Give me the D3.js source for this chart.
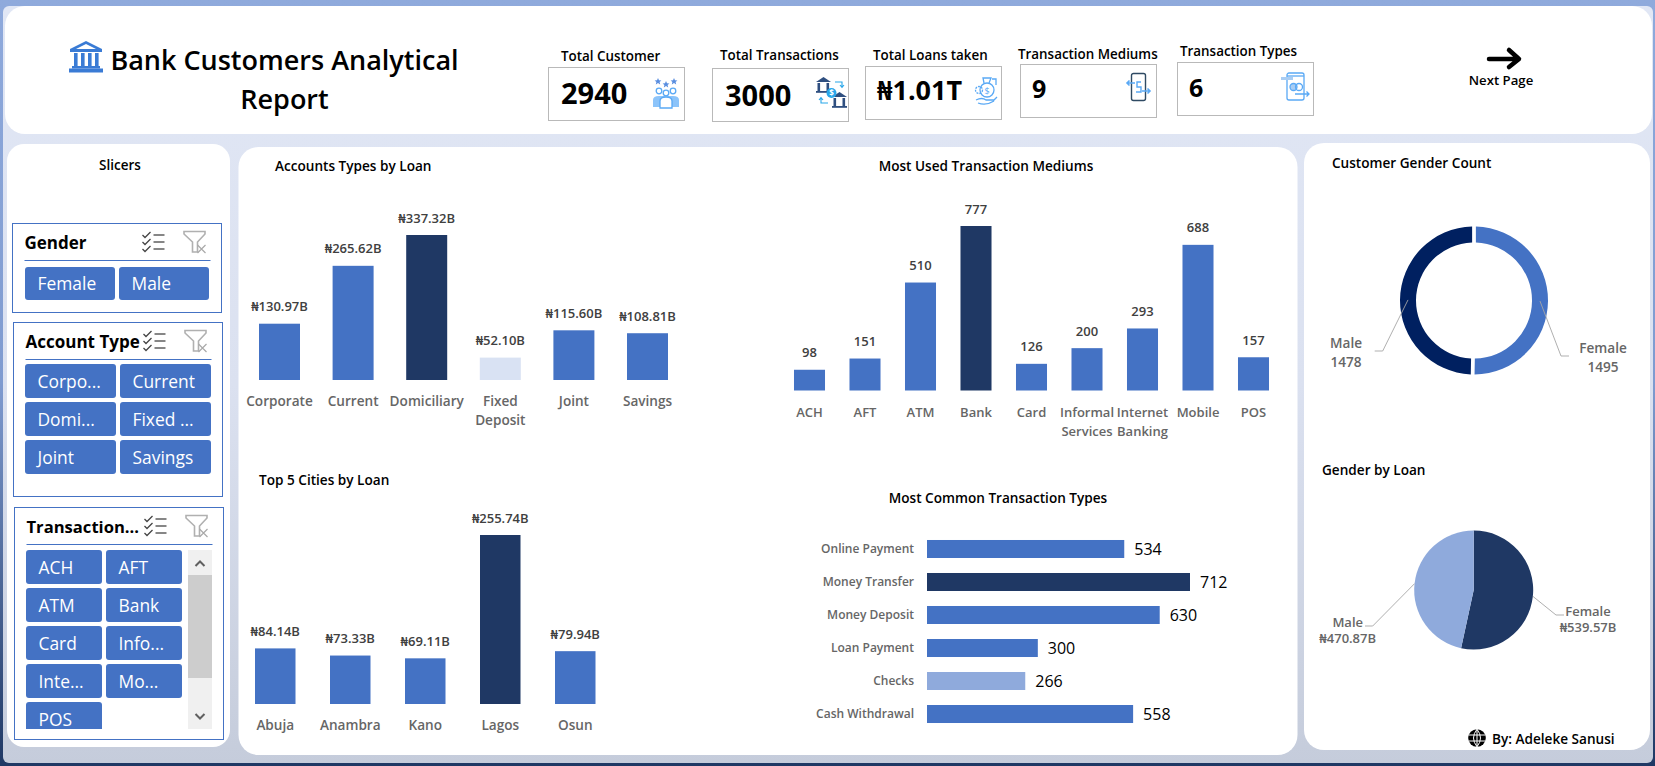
<!DOCTYPE html>
<html>
<head>
<meta charset="utf-8">
<title>Bank Customers Analytical Report</title>
<script src="https://cdn.jsdelivr.net/npm/d3@7"></script>
<style>
  html, body { margin: 0; padding: 0; background: #fff; overflow: hidden; }
  svg { display: block; }
  text { font-family: "Open Sans", "Noto Sans", "DejaVu Sans", sans-serif; }
</style>
</head>
<body>
<div id="chart"></div>
<script>
// Data
const accountTypes = ['Corporate', 'Current', 'Domiciliary', 'Fixed Deposit', 'Joint', 'Savings'];
const accountLoans = [130.97, 265.62, 337.32, 52.10, 115.60, 108.81];

const mediums = ['ACH', 'AFT', 'ATM', 'Bank', 'Card', 'Informal Services', 'Internet Banking', 'Mobile', 'POS'];
const mediumCounts = [98, 151, 510, 777, 126, 200, 293, 688, 157];

const cities = ['Abuja', 'Anambra', 'Kano', 'Lagos', 'Osun'];
const cityLoans = [84.14, 73.33, 69.11, 255.74, 79.94];

const txnTypes = ['Online Payment', 'Money Transfer', 'Money Deposit', 'Loan Payment', 'Checks', 'Cash Withdrawal'];
const txnCounts = [534, 712, 630, 300, 266, 558];

const genders = ['Female', 'Male'];
const genderCounts = [1495, 1478];
const genderLoans = [539.57, 470.87];

const kpiLabels = ['Total Customer', 'Total Transactions', 'Total Loans taken', 'Transaction Mediums', 'Transaction Types'];
const kpiValues = ['2940', '3000', '₦1.01T', '9', '6'];

const slicerGender = ['Female', 'Male'];
const slicerAccount = ['Corpo...', 'Current', 'Domi...', 'Fixed ...', 'Joint', 'Savings'];
const slicerTxn = ['ACH', 'AFT', 'ATM', 'Bank', 'Card', 'Info...', 'Inte...', 'Mo...', 'POS'];

const naira = v => `₦${v.toFixed(2)}B`;

// Colours
const BLUE = '#4472c4', NAVY = '#1f3864', MID = '#8faadc', PALE = '#d9e2f3';
const ICON = '#5aa9f5';

const W = 1655, H = 766;
const svg = d3.select('#chart').append('svg').attr('width', W).attr('height', H).attr('viewBox', `0 0 ${W} ${H}`);

const defs = svg.append('defs');
function gradient(id, stops) {
    const g = defs.append('linearGradient').attr('id', id).attr('x1', 0).attr('y1', 0).attr('x2', 0).attr('y2', 1);
    stops.forEach(([o, c]) => g.append('stop').attr('offset', o).attr('stop-color', c));
}
gradient('outer', [[0, '#8faadc'], [0.5, '#7f9bd0'], [1, '#1f3864']]);
gradient('inner', [[0, '#e1e7f5'], [0.5, '#dbe1f0'], [1, '#c5ccdb']]);

// Text helper, y is the vertical centre of the line
function txt(parent, x, y, s, o = {}) {
    return parent.append('text')
        .attr('x', x).attr('y', y).attr('dy', '.35em')
        .attr('text-anchor', o.anchor || 'start')
        .attr('font-size', o.size || 13)
        .attr('font-weight', o.weight || 400)
        .attr('fill', o.fill || '#000')
        .text(s);
}
const rect = (parent, x, y, w, h, o = {}) => parent.append('rect')
    .attr('x', x).attr('y', y).attr('width', w).attr('height', h)
    .attr('rx', o.r || 0).attr('fill', o.fill || 'none')
    .attr('stroke', o.stroke || 'none').attr('stroke-width', o.sw || 1)
    .attr('shape-rendering', o.stroke ? 'crispEdges' : null);

// Background and white panels
rect(svg, 0, 0, W, H, { fill: 'url(#outer)' });
rect(svg, 3, 6, W - 5, H - 9, { fill: 'url(#inner)', r: 6 });
rect(svg, 5, 6, 1647, 128, { fill: '#fff', r: 20 });
rect(svg, 7, 144, 223, 603, { fill: '#fff', r: 17 });
rect(svg, 238.5, 147, 1059, 608, { fill: '#fff', r: 20 });
rect(svg, 1304, 143, 346, 607, { fill: '#fff', r: 20 });

// Header
const header = svg.append('g');
txt(header, 284.5, 60.5, 'Bank Customers Analytical', { anchor: 'middle', size: 27, weight: 600 });
txt(header, 284.5, 100, 'Report', { anchor: 'middle', size: 27, weight: 600 });

function bankIcon(parent, x, y, s, fill) {
    const g = parent.append('g').attr('transform', `translate(${x},${y}) scale(${s})`);
    g.append('path').attr('fill', fill).attr('d', 'M17 0 L33 8 L33 11 L1 11 L1 8 Z');
    g.append('path').attr('fill', '#fff').attr('d', 'M17 3 L27 8 L7 8 Z');
    d3.range(4).forEach(i => g.append('rect').attr('x', 5 + i * 7).attr('y', 12).attr('width', 3.6).attr('height', 13).attr('fill', fill));
    g.append('rect').attr('x', 3).attr('y', 25).attr('width', 28).attr('height', 2.5).attr('fill', fill);
    g.append('rect').attr('x', 0).attr('y', 27.5).attr('width', 34).attr('height', 4).attr('fill', fill);
}
bankIcon(header, 69, 41, 1, '#3a7bd5');

// KPI cards
const kpiBoxes = [
    { x: 548, y: 67, lx: 561, ly: 56, vx: 561, vy: 94, vs: 29 },
    { x: 712, y: 68, lx: 720, ly: 55, vx: 725, vy: 96, vs: 29 },
    { x: 865, y: 66, lx: 873, ly: 55, vx: 877, vy: 91, vs: 27 },
    { x: 1020, y: 64, lx: 1018, ly: 54, vx: 1032, vy: 89, vs: 25 },
    { x: 1177, y: 62, lx: 1180, ly: 51, vx: 1189, vy: 88, vs: 25 }
];
kpiBoxes.forEach((b, i) => {
    rect(header, b.x + 0.5, b.y + 0.5, 136, 53, { fill: '#fff', stroke: '#b9b9b9' });
    txt(header, b.lx, b.ly, kpiLabels[i], { size: 13.4, weight: 600 });
    txt(header, b.vx, b.vy, kpiValues[i], { size: b.vs, weight: 700 });
});

// KPI icons, rough line drawings
const ic = (x, y) => header.append('g').attr('transform', `translate(${x},${y})`)
    .attr('fill', 'none').attr('stroke', ICON).attr('stroke-width', 1.3);

// people
(() => {
    const g = ic(653, 78);
    [[5, 3], [13, 6], [21, 3]].forEach(([x, y]) => g.append('path').attr('fill', '#5b8fe0').attr('stroke', 'none')
        .attr('d', `M${x} ${y - 3} l1 2.2 2.4 .2 -1.8 1.6 .6 2.4 -2.2 -1.3 -2.2 1.3 .6 -2.4 -1.8 -1.6 2.4 -.2 Z`));
    [[6, 13], [13, 15], [20, 13]].forEach(([x, y]) => g.append('circle').attr('cx', x).attr('cy', y).attr('r', 2.8));
    g.append('path').attr('fill', '#8cc4fa').attr('stroke', 'none').attr('d', 'M0 29 V22 Q0 18 6 18 H20 Q26 18 26 22 V29 Z');
    g.append('path').attr('fill', '#fff').attr('stroke', ICON).attr('d', 'M7 30 V23 Q7 19 13 19 Q19 19 19 23 V30 Z');
})();

// two banks with coin
(() => {
    const g = header.append('g').attr('transform', 'translate(816,77)');
    const bank = (x, y) => {
        g.append('path').attr('fill', '#2f4f80').attr('d', `M${x} ${y + 5} l7.5 -5 7.5 5 Z`);
        g.append('rect').attr('x', x + 1.5).attr('y', y + 6).attr('width', 2.6).attr('height', 8).attr('fill', '#2f4f80');
        g.append('rect').attr('x', x + 10.5).attr('y', y + 6).attr('width', 2.6).attr('height', 8).attr('fill', '#2f4f80');
        g.append('rect').attr('x', x).attr('y', y + 14).attr('width', 15).attr('height', 1.8).attr('fill', '#2f4f80');
    };
    bank(0, 0);
    bank(16, 15);
    g.append('circle').attr('cx', 15.5).attr('cy', 16).attr('r', 5).attr('fill', '#29a7ea');
    g.append('text').attr('x', 15.5).attr('y', 19).attr('text-anchor', 'middle').attr('font-size', 8).attr('font-weight', 700).attr('fill', '#fff').text('$');
    g.append('path').attr('fill', 'none').attr('stroke', '#29a7ea').attr('stroke-width', 1.1).attr('d', 'M19 5 H26 V10 M24 8 l2 2.4 2 -2.4 M5 21 V26 H12 M3 23 l2 -2.4 2 2.4');
})();

// coin bag on hand
(() => {
    const g = ic(974, 77);
    g.append('circle').attr('cx', 13).attr('cy', 13).attr('r', 7);
    g.append('circle').attr('cx', 5).attr('cy', 13).attr('r', 3.5).attr('stroke-dasharray', '2 1');
    g.append('path').attr('d', 'M10 6 L9 1 H17 L15 6 M18 2 H22 V8');
    g.append('path').attr('d', 'M2 23 Q8 20 12 23 H20 L23 20 M4 26 Q12 29 20 24');
    g.append('text').attr('x', 13).attr('y', 16.5).attr('text-anchor', 'middle').attr('font-size', 9).attr('stroke', 'none').attr('fill', ICON).text('$');
})();

// phone with arrows
(() => {
    const g = header.append('g').attr('transform', 'translate(1126,73)').attr('fill', 'none');
    g.append('rect').attr('x', 5.5).attr('y', 0.5).attr('width', 14).attr('height', 27).attr('rx', 2).attr('stroke', '#2f4a63').attr('stroke-width', 1.4);
    g.append('path').attr('stroke', ICON).attr('stroke-width', 1.6).attr('d', 'M9 10 H1 M3.5 7.5 L1 10 L3.5 12.5 M16 18 H24 M21.5 15.5 L24 18 L21.5 20.5');
    g.append('path').attr('stroke', ICON).attr('stroke-width', 1.4).attr('d', 'M15 9 H11 V14 H15 V19 H10');
})();

// phone with coins
(() => {
    const g = ic(1281, 72);
    g.append('rect').attr('x', 6).attr('y', 1).attr('width', 17).attr('height', 27).attr('rx', 2);
    g.append('path').attr('d', 'M6 4 H23');
    g.append('rect').attr('x', 0).attr('y', 5).attr('width', 12).attr('height', 3).attr('fill', '#a9cdf3').attr('stroke', 'none');
    g.append('circle').attr('cx', 12.5).attr('cy', 15).attr('r', 3.5).attr('fill', '#a9cdf3');
    g.append('circle').attr('cx', 18).attr('cy', 15).attr('r', 3.5);
    g.append('path').attr('d', 'M14 22 H28 M25.5 19.5 L28 22 L25.5 24.5');
})();

// Next page arrow
header.append('path').attr('fill', 'none').attr('stroke', '#000').attr('stroke-width', 4.5)
    .attr('stroke-linecap', 'round').attr('stroke-linejoin', 'round')
    .attr('d', 'M1489 59 H1518 M1509 50 L1519 59 L1509 67');
txt(header, 1501, 80, 'Next Page', { anchor: 'middle', size: 13.2, weight: 600 });

// Slicers
txt(svg, 120, 165, 'Slicers', { anchor: 'middle', size: 13.5, weight: 600 });

function multiSelectIcon(parent, x, y) {
    const g = parent.append('g').attr('transform', `translate(${x},${y})`).attr('fill', 'none').attr('stroke', '#444').attr('stroke-width', 1.3);
    [3, 10, 17].forEach(d => {
        g.append('path').attr('d', `M0 ${d} l2.5 2.5 L8 ${d - 3}`);
        g.append('path').attr('d', `M11 ${d} H22`);
    });
}
function clearIcon(parent, x, y) {
    const g = parent.append('g').attr('transform', `translate(${x},${y})`).attr('fill', 'none');
    g.append('path').attr('stroke', '#b0b0b0').attr('stroke-width', 1.6).attr('d', 'M.5 .5 H21.5 V3 L14 11 V21 H9 V11 L.5 3 Z');
    g.append('path').attr('stroke', '#a9a9a9').attr('stroke-width', 1.2).attr('d', 'M14 14 L22 22 M22 14 L14 22');
}
function slicer(o) {
    const g = svg.append('g');
    rect(g, o.x, o.y + 0.5, 209, o.h, { stroke: BLUE });
    txt(g, o.x + 12, o.y + 20, o.title, { size: o.titleSize, weight: 700 });
    g.append('line').attr('x1', o.x + 12).attr('x2', o.x + 198).attr('y1', o.lineY + 0.5).attr('y2', o.lineY + 0.5).attr('stroke', BLUE);
    multiSelectIcon(g, o.x + 130, o.y + 9);
    clearIcon(g, o.x + 171, o.y + 8);
    const clipId = 'clip' + Math.round(o.x);
    defs.append('clipPath').attr('id', clipId).append('rect').attr('x', o.x).attr('y', o.btnY).attr('width', 209).attr('height', o.clipH);
    const cells = g.append('g').attr('clip-path', `url(#${clipId})`);
    o.items.forEach((d, i) => {
        const col = i % 2, row = Math.floor(i / 2);
        const bx = o.btnX + col * (o.btnW + 4), by = o.btnY + row * (o.btnH + 4);
        rect(cells, bx, by, o.btnW, o.btnH, { fill: BLUE, r: 3 });
        txt(cells, bx + 12.5, by + o.btnH / 2 + 0.7, d, { size: 17.4, fill: '#fff' });
    });
}
slicer({ x: 12.5, y: 223, h: 89, lineY: 260, title: 'Gender', titleSize: 17, items: slicerGender, btnX: 25, btnY: 267, btnW: 90, btnH: 33, clipH: 40 });
slicer({ x: 13.5, y: 322, h: 174, lineY: 359, title: 'Account Type', titleSize: 17, items: slicerAccount, btnX: 25, btnY: 364, btnW: 91, btnH: 34, clipH: 120 });
slicer({ x: 14.5, y: 507, h: 232, lineY: 544, title: 'Transaction...', titleSize: 16.6, items: slicerTxn, btnX: 26, btnY: 550, btnW: 76, btnH: 34, clipH: 179 });

// Scrollbar of the transaction slicer
rect(svg, 188, 550, 24, 179, { fill: '#f0f0f0' });
rect(svg, 188, 575, 24, 103, { fill: '#cdcdcd' });
svg.append('path').attr('fill', 'none').attr('stroke', '#606060').attr('stroke-width', 2)
    .attr('d', 'M195.5 566 L200 561.5 L204.5 566 M195.5 714 L200 718.5 L204.5 714');

// Vertical bar chart
function columnChart(o) {
    const g = svg.append('g');
    txt(g, o.titleX, o.titleY, o.title, { size: 13.6, weight: 600, anchor: o.titleAnchor });
    const x = d3.scaleBand().domain(o.cats).range(o.xRange).paddingInner(o.pad).paddingOuter(o.pad / 2);
    const y = d3.scaleLinear().domain([0, d3.max(o.vals)]).range(o.yRange);
    const rows = o.cats.map((c, i) => ({ c, v: o.vals[i] }));

    g.selectAll('.bar').data(rows).enter().append('rect')
        .attr('x', d => x(d.c)).attr('width', x.bandwidth())
        .attr('y', d => y(d.v)).attr('height', d => y(0) - y(d.v))
        .attr('fill', d => o.color(d.v));

    g.selectAll('.val').data(rows).enter().append('text')
        .attr('x', d => x(d.c) + x.bandwidth() / 2).attr('y', d => y(d.v) - 17).attr('dy', '.35em')
        .attr('text-anchor', 'middle').attr('font-size', 13).attr('font-weight', 600).attr('fill', '#404040')
        .text(d => o.fmt(d.v));

    // Category labels, wrapped on spaces
    const axis = g.append('g').attr('transform', `translate(0,${o.labelY})`)
        .call(d3.axisBottom(x).tickSize(0).tickPadding(0));
    axis.select('.domain').remove();
    axis.selectAll('text').attr('font-size', o.labelSize || 13.6).attr('font-weight', 600).attr('fill', '#666')
        .attr('font-family', null).attr('dy', '.35em').attr('y', 0)
        .each(function (d) {
            const t = d3.select(this).text(null);
            d.split(' ').forEach((w, i) => t.append('tspan').attr('x', 0).attr('dy', i ? 19.5 : '.35em').text(w));
        });
    return g;
}
const maxMinColor = (vals, lo) => v => v === d3.max(vals) ? NAVY : (lo && v === d3.min(vals) ? lo : BLUE);

columnChart({
    title: 'Accounts Types by Loan', titleX: 275, titleY: 166,
    cats: accountTypes, vals: accountLoans, fmt: naira, color: maxMinColor(accountLoans, PALE),
    xRange: [242.7, 684.3], pad: 0.443, yRange: [380, 235], labelY: 401
});
columnChart({
    title: 'Most Used Transaction Mediums', titleX: 986, titleY: 166, titleAnchor: 'middle',
    cats: mediums, vals: mediumCounts, fmt: d => d, color: maxMinColor(mediumCounts),
    xRange: [781.75, 1281.25], pad: 0.441, yRange: [390.5, 226], labelY: 412, labelSize: 13
});
columnChart({
    title: 'Top 5 Cities by Loan', titleX: 259, titleY: 480,
    cats: cities, vals: cityLoans, fmt: naira, color: maxMinColor(cityLoans),
    xRange: [237.75, 612.75], pad: 0.46, yRange: [704, 535], labelY: 725
});

// Horizontal bar chart
(() => {
    const g = svg.append('g');
    txt(g, 998, 498, 'Most Common Transaction Types', { size: 13.6, weight: 600, anchor: 'middle' });
    const y = d3.scaleBand().domain(txnTypes).range([532.5, 730.5]).paddingInner(0.4545).paddingOuter(0.227);
    const x = d3.scaleLinear().domain([0, d3.max(txnCounts)]).range([927, 1190]);
    const rows = txnTypes.map((c, i) => ({ c, v: txnCounts[i] }));
    const color = v => v === d3.max(txnCounts) ? NAVY : (v === d3.min(txnCounts) ? MID : BLUE);

    g.selectAll('.bar').data(rows).enter().append('rect')
        .attr('x', x(0)).attr('width', d => x(d.v) - x(0))
        .attr('y', d => y(d.c)).attr('height', y.bandwidth())
        .attr('fill', d => color(d.v));

    g.selectAll('.val').data(rows).enter().append('text')
        .attr('x', d => x(d.v) + 10).attr('y', d => y(d.c) + y.bandwidth() / 2).attr('dy', '.35em')
        .attr('font-size', 16).attr('fill', '#000').text(d => d.v);

    const axis = g.append('g').attr('transform', 'translate(914,0)').call(d3.axisLeft(y).tickSize(0).tickPadding(0));
    axis.select('.domain').remove();
    axis.selectAll('text').attr('font-size', 12).attr('font-weight', 600).attr('fill', '#666').attr('font-family', null);
})();

// Donut and pie
function roundChart(o) {
    const g = svg.append('g');
    txt(g, o.titleX, o.titleY, o.title, { size: 13.6, weight: 600 });
    const c = g.append('g').attr('transform', `translate(${o.cx},${o.cy})`);
    const pie = d3.pie().sort(null)(o.vals);
    const arc = d3.arc().innerRadius(o.inner).outerRadius(o.outer).padAngle(o.padAngle || 0);
    c.selectAll('path.slice').data(pie).enter().append('path')
        .attr('d', arc).attr('fill', (d, i) => o.colors[i]);

    // Leader lines leave from the slice's mid angle
    const anchor = d3.arc().innerRadius(o.leadR).outerRadius(o.leadR);
    pie.forEach((d, i) => {
        const [ax, ay] = anchor.centroid(d);
        const l = o.labels[i];
        g.append('polyline').attr('fill', 'none').attr('stroke', '#a6a6a6').attr('stroke-width', 0.9)
            .attr('points', `${o.cx + ax},${o.cy + ay} ${l.ex},${l.ey} ${l.tx},${l.ey}`);
        txt(g, l.x, l.y1, o.names[i], { anchor: 'middle', size: o.labelSize, weight: 600, fill: '#666' });
        txt(g, l.x, l.y2, o.fmt(o.vals[i]), { anchor: 'middle', size: o.labelSize, weight: 600, fill: '#666' });
    });
}
roundChart({
    title: 'Customer Gender Count', titleX: 1332, titleY: 163, labelSize: 13.6,
    cx: 1474, cy: 300.5, outer: 74, inner: 58, padAngle: 0.04, leadR: 66,
    vals: genderCounts, names: genders, fmt: d => d, colors: [BLUE, '#002060'],
    labels: [
        { ex: 1561, ey: 356, tx: 1569, x: 1603, y1: 348, y2: 367 },
        { ex: 1382.7, ey: 351, tx: 1374.7, x: 1346, y1: 343, y2: 362 }
    ]
});
roundChart({
    title: 'Gender by Loan', titleX: 1322, titleY: 470, labelSize: 13,
    cx: 1473.7, cy: 590, outer: 59.5, inner: 0, leadR: 59.5,
    vals: genderLoans, names: genders, fmt: naira, colors: [NAVY, MID],
    labels: [
        { ex: 1556, ey: 615, tx: 1564, x: 1588, y1: 611.5, y2: 627 },
        { ex: 1372.7, ey: 626, tx: 1365, x: 1347.7, y1: 622, y2: 638 }
    ]
});

// Credit line
(() => {
    const g = svg.append('g').attr('transform', 'translate(1477,738)');
    g.append('circle').attr('r', 8.8).attr('fill', '#000');
    g.append('path').attr('fill', 'none').attr('stroke', '#fff').attr('stroke-width', 1)
        .attr('d', 'M-8.8 -3 H8.8 M-8.8 3 H8.8 M0 -8.8 V8.8 M0 -8.8 Q-7 0 0 8.8 M0 -8.8 Q7 0 0 8.8');
    txt(svg, 1492, 739, 'By: Adeleke Sanusi', { size: 13.6, weight: 600 });
})();
</script>
</body>
</html>
